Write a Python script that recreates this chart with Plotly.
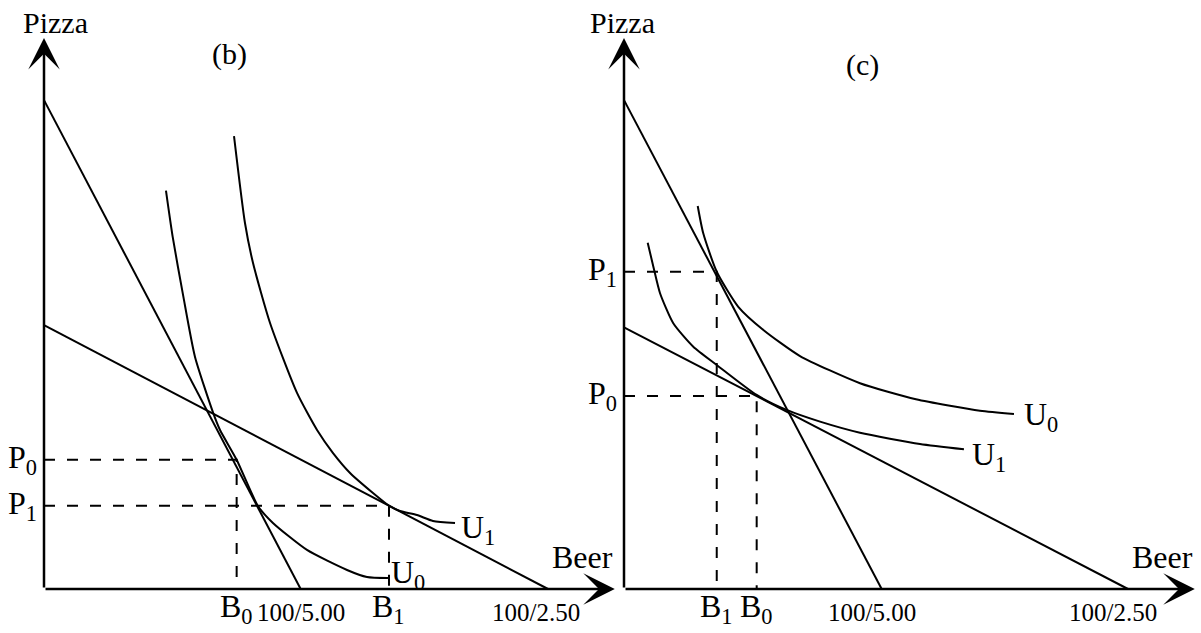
import plotly.graph_objects as go

# ---------------- data (Beer on x, Pizza on y) ----------------
# Panel (b)
b_budget_steep = [38.8, 20.37]   # [pizza intercept, beer intercept]
b_budget_flat = [20.95, 40.0]
b_u0_beer = [9.68, 10.21, 11.06, 11.98, 13.44, 13.97, 15.29, 16.98, 18.17, 20.87, 24.05, 25.63, 27.30]
b_u0_pizza = [31.61, 27.96, 23.20, 18.44, 13.94, 12.62, 10.26, 6.59, 5.24, 3.10, 1.51, 0.95, 0.87]
b_u1_beer = [15.08, 15.95, 16.59, 17.94, 20.08, 21.67, 22.94, 24.29, 26.11, 27.38, 28.25, 29.60, 30.87, 32.62]
b_u1_pizza = [35.95, 29.05, 25.87, 21.11, 15.56, 12.62, 10.79, 9.21, 7.62, 6.61, 6.19, 5.87, 5.40, 5.24]
b_B = [15.29, 27.38]   # B0, B1
b_P = [10.26, 6.61]    # P0, P1

# Panel (c)
c_budget_steep = [38.8, 20.45]
c_budget_flat = [20.77, 40.0]
c_u0_beer = [5.85, 6.29, 7.36, 9.07, 11.06, 13.97, 18.73, 23.17, 28.25, 30.95]
c_u0_pizza = [30.40, 28.23, 25.18, 22.40, 20.56, 18.49, 16.33, 15.06, 14.15, 13.89]
c_u1_beer = [1.88, 2.33, 2.86, 3.91, 5.50, 7.36, 10.53, 12.91, 15.56, 18.73, 23.49, 26.98]
c_u1_pizza = [27.48, 25.58, 23.47, 21.09, 19.23, 17.78, 15.40, 14.21, 13.28, 12.40, 11.51, 11.09]
c_B = [10.53, 7.36]    # B0, B1
c_P = [15.32, 25.18]   # P0, P1

axis_len = [45.3, 43.73]  # beer-axis length, pizza-axis length
budget_labels = ["100/5.00", "100/2.50"]

# ---------------- layout helpers ----------------
FONT = "Liberation Serif, Times New Roman, serif"
SCALE = 12.6  # px per unit
W, H = 1201, 633
ORIGINS = {"b": (44, 589), "c": (624, 589)}

fig = go.Figure()


def axes_for(panel):
    return ("x", "y") if panel == "b" else ("x2", "y2")


def line(panel, xs, ys, width=2, dash=None, shape="linear"):
    xa, ya = axes_for(panel)
    fig.add_trace(go.Scatter(x=xs, y=ys, mode="lines", xaxis=xa, yaxis=ya,
                             line=dict(color="black", width=width, dash=dash, shape=shape,
                                       smoothing=0.6),
                             hoverinfo="skip", showlegend=False))


def text(panel, x, y, s, size=30, xanchor="center", yanchor="middle", xshift=0, yshift=0):
    xa, ya = axes_for(panel)
    fig.add_annotation(x=x, y=y, xref=xa, yref=ya, text=s, showarrow=False,
                       xanchor=xanchor, yanchor=yanchor, xshift=xshift, yshift=yshift,
                       font=dict(family=FONT, size=size, color="black"))


def arrow(panel, x, y):
    xa, ya = axes_for(panel)
    fig.add_annotation(x=x, y=y, ax=0, ay=0, xref=xa, yref=ya, axref=xa, ayref=ya,
                       text="", showarrow=True, arrowhead=3, arrowsize=2.1,
                       arrowwidth=2.5, arrowcolor="black", standoff=0)


DASH = "11px,12px"


def panel(p, steep, flat, u0x, u0y, u1x, u1y, B, P, title, title_pos):
    # axes with arrows
    arrow(p, axis_len[0], 0)
    arrow(p, 0, axis_len[1])
    # budget lines
    line(p, [0, steep[1]], [steep[0], 0])
    line(p, [0, flat[1]], [flat[0], 0])
    # indifference curves
    line(p, u0x, u0y, shape="spline")
    line(p, u1x, u1y, shape="spline")
    # dashed guides
    for bv, pv in zip(B, P):
        line(p, [0, bv, bv], [pv, pv, 0], width=2, dash=DASH)
    # labels
    text(p, title_pos[0], title_pos[1], title, size=30)
    text(p, 0.9 if p == "b" else -0.1, 45.0, "Pizza", size=30)
    text(p, 42.7, 2.55, "Beer", size=32)
    ylab = -1.85
    text(p, B[0], ylab, "B<sub>0</sub>", size=32, yshift=4)
    text(p, B[1], ylab, "B<sub>1</sub>", size=32, yshift=4)
    text(p, steep[1], ylab, budget_labels[0], size=25, xshift=0 if p == "b" else -10)
    text(p, flat[1], ylab, budget_labels[1], size=25, xshift=-12 if p == "b" else -15)
    text(p, 0, P[0], "P<sub>0</sub>", size=32, xanchor="right", xshift=-5, yshift=0)
    text(p, 0, P[1], "P<sub>1</sub>", size=32, xanchor="right", xshift=-5, yshift=0)
    if p == "b":
        text(p, u0x[-1], u0y[-1], "U<sub>0</sub>", size=32, xanchor="left", xshift=1, yshift=4)
        text(p, u1x[-1], u1y[-1], "U<sub>1</sub>", size=32, xanchor="left", xshift=4, yshift=-7)
    else:
        text(p, u0x[-1], u0y[-1], "U<sub>0</sub>", size=32, xanchor="left", xshift=8, yshift=-3)
        text(p, u1x[-1], u1y[-1], "U<sub>1</sub>", size=32, xanchor="left", xshift=6, yshift=-7)


panel("b", b_budget_steep, b_budget_flat, b_u0_beer, b_u0_pizza, b_u1_beer, b_u1_pizza,
      b_B, b_P, "(b)", (14.7, 42.5))
panel("c", c_budget_steep, c_budget_flat, c_u0_beer, c_u0_pizza, c_u1_beer, c_u1_pizza,
      c_B, c_P, "(c)", (18.9, 41.6))


def xr(p):
    ox = ORIGINS[p][0]
    return [-ox / SCALE, (W - ox) / SCALE]


def yr(p):
    oy = ORIGINS[p][1]
    return [-(H - oy) / SCALE, oy / SCALE]


common = dict(visible=False, showgrid=False, zeroline=False, fixedrange=True, domain=[0, 1])
fig.update_layout(
    width=W, height=H, margin=dict(l=0, r=0, t=0, b=0),
    paper_bgcolor="white", plot_bgcolor="rgba(0,0,0,0)",
    xaxis=dict(range=xr("b"), **common),
    yaxis=dict(range=yr("b"), **common),
    xaxis2=dict(range=xr("c"), anchor="y2", **common),
    yaxis2=dict(range=yr("c"), anchor="x2", **common),
    showlegend=False,
)

fig.write_html("out.html", config={"displayModeBar": False},
               post_script="document.body.style.margin='0';document.body.style.overflow='hidden';")
